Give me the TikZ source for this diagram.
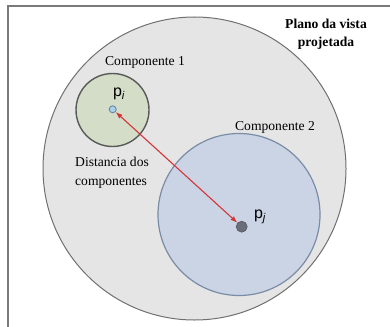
\documentclass[tikz,border=0pt]{standalone}
\usepackage{fontspec}
\setmainfont{Liberation Serif}
\newfontfamily\ptfont{Liberation Sans}
\usepackage{tikz}
\definecolor{framegray}{RGB}{122,122,120}
\definecolor{planebg}{RGB}{229,229,229}
\definecolor{planeline}{RGB}{112,112,112}
\definecolor{compAbg}{RGB}{212,221,200}
\definecolor{compAline}{RGB}{88,90,88}
\definecolor{compBbg}{RGB}{202,212,228}
\definecolor{compBline}{RGB}{122,140,166}
\definecolor{pibg}{RGB}{170,208,234}
\definecolor{piline}{RGB}{105,135,165}
\definecolor{pjbg}{RGB}{105,110,122}
\definecolor{distred}{RGB}{214,52,56}
\usetikzlibrary{arrows.meta}

\begin{document}
\begin{tikzpicture}[x=1pt, y=-1pt, >={Latex[length=7pt, width=5pt]},
  every node/.style={font=\fontsize{13.6}{18}\selectfont, inner sep=0pt},
  region/.style={circle, draw, inner sep=0pt},
  ptlabel/.style={font=\ptfont\fontsize{16}{18}\selectfont}]
  \useasboundingbox (0,0) rectangle (390,326);
  \clip (0,0) rectangle (390,326);
  \draw[framegray, line width=2pt] (7.7,6) rectangle (420,360);
  % projected view plane and the two components
  \node[region, fill=planebg, draw=planeline, line width=1pt, minimum size=303pt] (plano) at (194.5,168.5) {};
  \node[region, fill=compAbg, draw=compAline, line width=1.4pt, minimum size=73pt] (comp1) at (112.5,110) {};
  \node[region, fill=compBbg, draw=compBline, line width=1.2pt, minimum size=162pt] (comp2) at (239,214.5) {};
  \node[font=\bfseries\fontsize{13.6}{18}\selectfont, align=center] (titulo) at (326,34) {Plano da vista\\projetada};
  \node (lbl1) at (145,62) {Componente 1};
  \node (lbl2) at (275,127) {Componente 2};
  \node[align=left, anchor=west, font=\fontsize{13.6}{19}\selectfont] (dist) at (75,172.5) {Distancia dos\\componentes};
  % points and the distance between them
  \node[region, fill=pibg, draw=piline, line width=0.9pt, minimum size=7pt] (pi) at (112.7,109.3) {};
  \node[region, fill=pjbg, draw=pjbg!80!black, line width=0.6pt, minimum size=11pt] (pj) at (241.7,226.7) {};
  \node[ptlabel] (pilbl) at (119,94) {p\textsubscript{\itshape i}};
  \node[ptlabel] (pjlbl) at (260,217) {p\textsubscript{\itshape j}};
  \draw[<->, distred, line width=1.1pt] (pi) -- (pj);
\end{tikzpicture}
\end{document}
